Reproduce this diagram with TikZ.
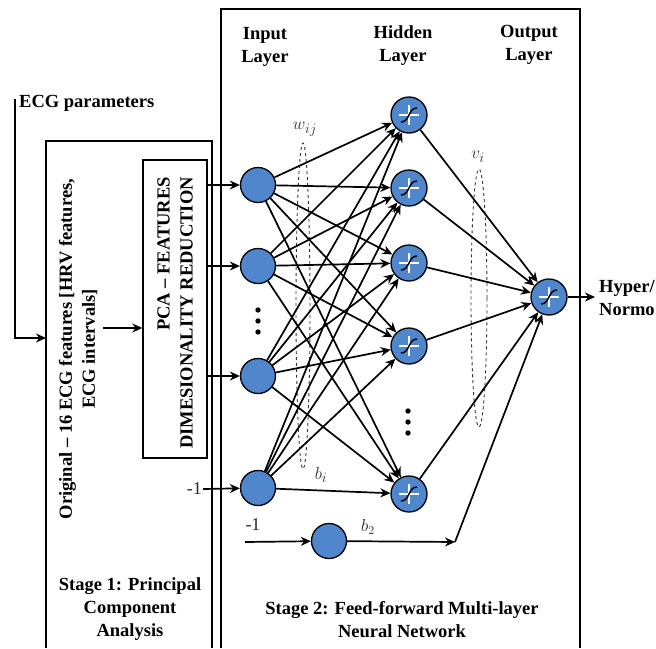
\documentclass[tikz,border=0pt]{standalone}
\usepackage{fontspec}
\setmainfont{Liberation Serif}
\usetikzlibrary{arrows.meta}
\definecolor{neuronblue}{RGB}{79,134,204}
\begin{document}
\begin{tikzpicture}[x=1pt,y=-1pt,
  unit/.style={circle,draw=black,line width=1.3pt,fill=neuronblue,
    minimum size=35pt,inner sep=0pt},
  sigm/.style={unit,minimum size=36pt,path picture={
    \draw[white,line width=1.5pt]
      ([xshift=-10pt]path picture bounding box.center) --
      ([xshift=10pt]path picture bounding box.center);
    \draw[white,line width=1.5pt]
      ([yshift=-10pt]path picture bounding box.center) --
      ([yshift=10pt]path picture bounding box.center);
    \draw[black,line width=1.5pt]
      ([shift={(-8pt,-7pt)}]path picture bounding box.center)
      .. controls +(9pt,0pt) and +(-9pt,0pt) ..
      ([shift={(8pt,7pt)}]path picture bounding box.center);}},
  link/.style={line width=1.7pt,-{Stealth[length=10pt,width=9pt]}},
  frame/.style={line width=1.4pt},
  lbl/.style={font=\fontsize{18.5}{23}\selectfont\bfseries,align=center,inner sep=0pt},
  plain/.style={font=\fontsize{18}{22}\selectfont,text=black!85,inner sep=1pt},
  wt/.style={font=\fontsize{19}{22}\selectfont,text=black!80,inner sep=0pt},
  ellip/.style={dashed,line width=0.9pt,draw=black!80}
]
\useasboundingbox (0,0) rectangle (656,648);

% ---- stage frames ----
\draw[frame] (46,648) -- (46,141) -- (212,141) -- (212,648);
\draw[frame] (221,648) -- (221,9) -- (580,9) -- (580,648);

% ---- stage 1 ----
\node[lbl,anchor=west] (ecg) at (19,103) {ECG parameters};
\coordinate (ecgtop) at (15,99);
\coordinate (s1in) at (46,338);
\draw[link] (ecgtop) |- (s1in);

\node[lbl,rotate=90] (orig) at (78,349)
  {Original – 16 ECG features [HRV features,\\ECG intervals]};

\node[draw,frame,minimum width=64pt,minimum height=298pt,inner sep=0pt]
  (pca) at (175,309) {};
\node[lbl,rotate=90,align=right] (pcatext) at (175,313)
  {PCA – FEATURES\\DIMESIONALITY REDUCTION};

\coordinate (s1a) at (103,328);
\draw[link] (s1a) -- (s1a -| pca.west);

\node[lbl] (st1) at (130,609) {Stage 1: Principal\\Component\\Analysis};

% ---- layer titles ----
\node[lbl] (tin) at (265,47) {Input\\Layer};
\node[lbl] (thid) at (403,46) {Hidden\\Layer};
\node[lbl] (tout) at (529,45) {Output\\Layer};

% ---- neurons ----
\node[unit] (i1) at (258,185) {};
\node[unit] (i2) at (258,266) {};
\node[unit] (i3) at (258,376) {};
\node[unit] (i4) at (258,488) {};

\node[sigm] (h1) at (409,115) {};
\node[sigm] (h2) at (409,188) {};
\node[sigm] (h3) at (409,263) {};
\node[sigm] (h4) at (409,346) {};
\node[sigm] (h5) at (409,494) {};

\node[sigm] (o) at (549,297) {};
\node[unit] (bias) at (329,541) {};

% ellipsis dots
\foreach \y in {310,321,332} \fill (258,\y) circle (2.7pt);
\foreach \y in {411,422,433} \fill (408,\y) circle (2.7pt);

% ---- weight groups ----
\draw[ellip] (303,306) ellipse [x radius=7pt,y radius=163pt];
\draw[ellip] (479,298) ellipse [x radius=8pt,y radius=129pt];
\node[wt] (wij) at (305,129) {$w_{ij}$};
\node[wt] (vi) at (478,157) {$v_i$};
\node[wt] (bi) at (321,475) {$b_i$};

% ---- inputs from PCA ----
\draw[link] (pca.east |- i1) -- (i1);
\draw[link] (pca.east |- i2) -- (i2);
\draw[link] (pca.east |- i3) -- (i3);
\node[plain,anchor=east] (m1) at (203,489) {-1};
\draw[link] (m1.east) -- (i4);

% ---- full connections ----
\foreach \a in {i1,i2,i3,i4}
  \foreach \b in {h1,h2,h3,h4,h5}
    \draw[link] (\a) -- (\b);
\foreach \b in {h1,h2,h3,h4,h5}
  \draw[link] (\b) -- (o);

% ---- output bias ----
\coordinate (m2) at (245,542);
\coordinate (bj) at (455,542);
\node[plain] (m2l) at (253,525) {-1};
\node[plain] (b2) at (368,527) {$b_2$};
\draw[link] (m2) -- (bias);
\draw[link] (bias) -- (bj);
\draw[link] (bj) -- (o);

% ---- result ----
\coordinate (yout) at (595,297);
\draw[link] (o) -- (yout);
\node[lbl,anchor=west,align=left] (res) at (599,298) {Hyper/\\Normo};

\node[lbl] (st2) at (402,620) {Stage 2: Feed-forward Multi-layer\\Neural Network};
\end{tikzpicture}
\end{document}
